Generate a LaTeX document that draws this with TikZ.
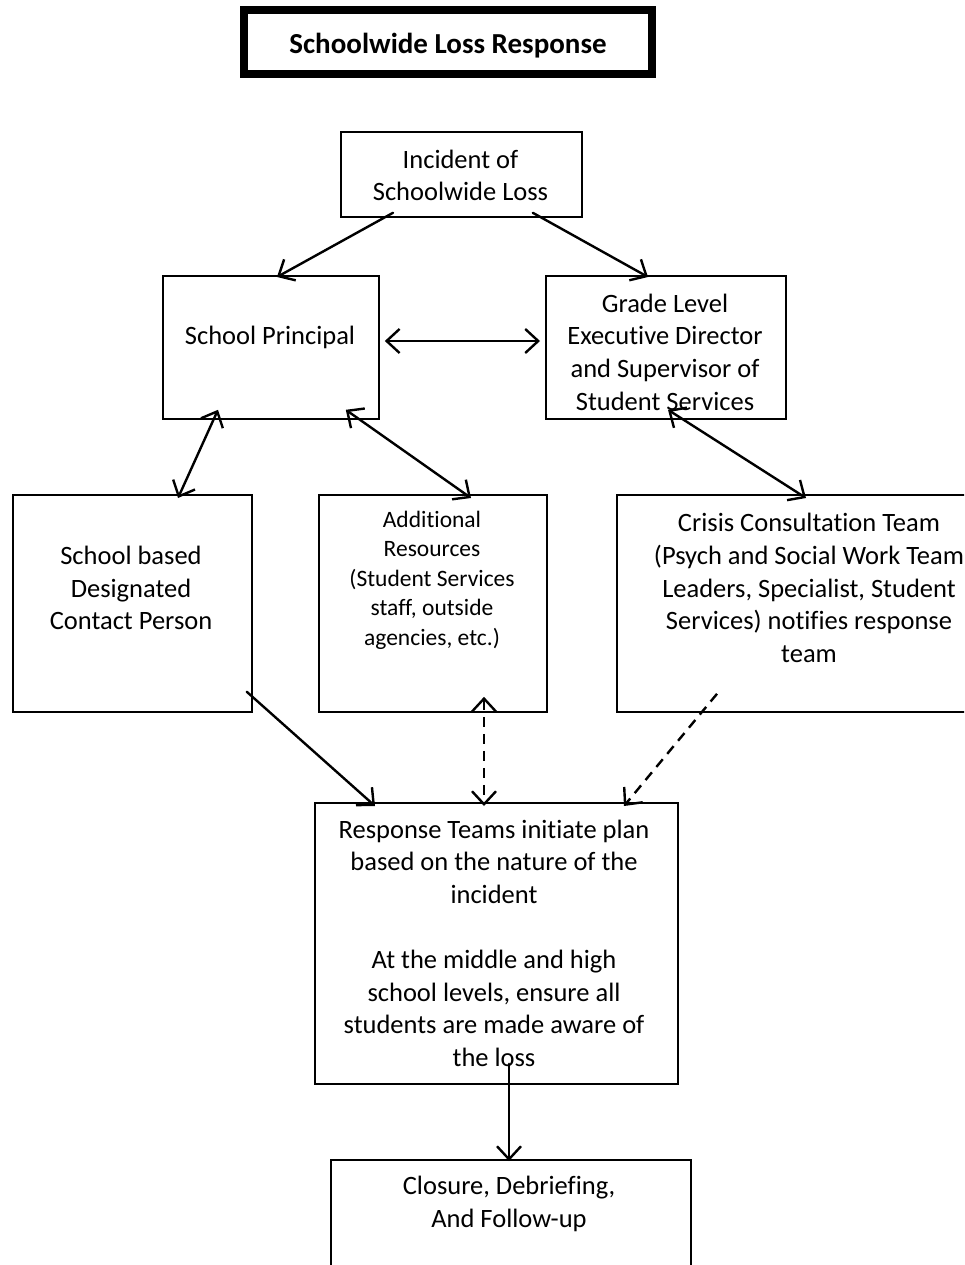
\documentclass[tikz,border=0pt]{standalone}
\usepackage{fontspec}
\setmainfont{Carlito}[Ligatures=NoCommon]
\usetikzlibrary{arrows.meta,calc}
\tikzset{
  box/.style={draw, line width=1.8pt, rectangle, inner sep=0pt, anchor=north west},
  txt/.style={align=center, inner sep=0pt, font=\fontsize{26.5}{32.6}\selectfont},
  smalltxt/.style={align=center, inner sep=0pt, font=\fontsize{23.5}{29.5}\selectfont},
  conn/.style={line width=2.4pt, line cap=round},
  tip/.style={-{Straight Barb[length=13pt,width=24pt,line width=2.4pt]}},
  bitip/.style={{Straight Barb[length=13pt,width=24pt,line width=2.4pt]}-{Straight Barb[length=13pt,width=24pt,line width=2.4pt]}},
  dashline/.style={dash pattern=on 10pt off 7pt, line cap=butt}
}
\begin{document}
\begin{tikzpicture}[x=1pt,y=-1pt]
\useasboundingbox (0,0) rectangle (964,1265);
\clip (0,0) rectangle (964,1265);
% title
\node[draw, line width=8pt, minimum width=408, minimum height=64, inner sep=0pt,
  text height=28pt, text depth=5pt,
  font=\fontsize{29}{35}\selectfont\bfseries] (title) at (448,42) {Schoolwide Loss Response};
% boxes
\node[box, minimum width=241, minimum height=85] (inc) at (340,131) {};
\node[txt] (inct) at (460.5,175.5) {Incident of\\Schoolwide Loss};
\node[box, minimum width=216, minimum height=143] (pri) at (162,275) {};
\node[txt] (prit) at (270,337) {School Principal};
\node[box, minimum width=240, minimum height=143] (gr) at (545,275) {};
\node[txt] (grt) at (665,352) {Grade Level\\Executive Director\\and Supervisor of\\Student Services};
\node[box, minimum width=239, minimum height=217] (des) at (12,494) {};
\node[txt] (dest) at (131,588) {School based\\Designated\\Contact Person};
\node[box, minimum width=228, minimum height=217] (add) at (318,494) {};
\node[smalltxt] (addt) at (432,580) {Additional\\Resources\\(Student Services\\staff, outside\\agencies, etc.)};
\node[box, minimum width=360, minimum height=217] (cri) at (616,494) {};
\node[txt] (crit) at (809,588) {Crisis Consultation Team\\(Psych and Social Work Team\\Leaders, Specialist, Student\\Services) notifies response\\team};
\node[box, minimum width=363, minimum height=281] (res) at (314,802) {};
\node[txt] (rest) at (494,943) {Response Teams initiate plan\\based on the nature of the\\incident\\[32.6pt]At the middle and high\\school levels, ensure all\\students are made aware of\\the loss};
\node[box, minimum width=360, minimum height=200] (clo) at (330,1159) {};
\node[txt] (clot) at (509,1204) {Closure, Debriefing,\\And Follow-up};
% connectors
\draw[conn,tip] ($(inc.south west)+(53,-5)$) -- ($(pri.north west)+(115,2)$);
\draw[conn,tip] ($(inc.south east)+(-50,-5)$) -- ($(gr.north west)+(103,2)$);
\draw[conn,bitip] ($(pri.north east)+(5,66)$) -- ($(gr.north west)+(-5,66)$);
\draw[conn,bitip] ($(pri.south west)+(56,-10)$) -- ($(des.north west)+(166,4)$);
\draw[conn,bitip] ($(pri.south east)+(-34,-10)$) -- ($(add.north west)+(153,4)$);
\draw[conn,bitip] ($(gr.south west)+(123,-10)$) -- ($(cri.north west)+(190,4)$);
\draw[conn,tip] ($(des.south east)+(-6,-21)$) -- ($(res.north west)+(61,4)$);
\draw[conn,bitip,dashline] ($(add.south west)+(166,-16)$) -- ($(res.north west)+(170,4)$);
\draw[conn,tip,dashline] ($(cri.south west)+(101,-19)$) -- ($(res.north west)+(310,4)$);
\draw[conn,tip] ($(res.south west)+(195,-21)$) -- ($(clo.north west)+(179,2)$);
\end{tikzpicture}
\end{document}
